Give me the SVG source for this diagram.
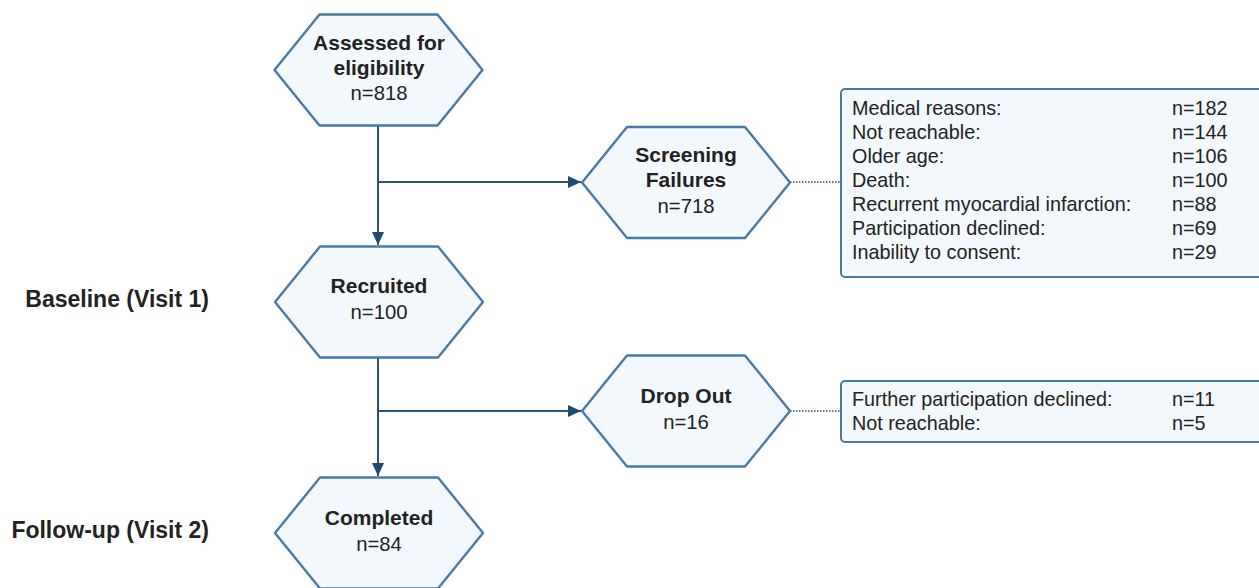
<svg xmlns="http://www.w3.org/2000/svg" width="1259" height="588" viewBox="0 0 1259 588">
<style>
.hex{fill:#f3f8fc;stroke:#4a79a5;stroke-width:2.4;stroke-linejoin:round}
.box{fill:#f3f8fc;stroke:#4a79a5;stroke-width:2}
.t{font-family:"Liberation Sans",Arial,sans-serif;fill:#222;text-anchor:middle}
.b{font-weight:bold;font-size:21px}
.r{font-size:20.3px}
.l{font-family:"Liberation Sans",Arial,sans-serif;fill:#222;font-size:19.8px}
.side{font-family:"Liberation Sans",Arial,sans-serif;fill:#222;font-size:23px;font-weight:bold;text-anchor:end}
.c{fill:none;stroke:#2b5279;stroke-width:2}
.d{fill:none;stroke:#2b5279;stroke-width:1.6;stroke-dasharray:1.5 1.5}
</style>
<defs>
<marker id="ah" markerWidth="14" markerHeight="12" refX="13" refY="6" orient="auto" markerUnits="userSpaceOnUse">
<path d="M0,0 L13,6 L0,12 Z" fill="#1f4a73"/>
</marker>
</defs>
<rect width="1259" height="588" fill="#ffffff"/>
<g id="connectors">
<path class="c" d="M378,125 L378,245" marker-end="url(#ah)"/>
<path class="c" d="M378,182 L581,182" marker-end="url(#ah)"/>
<path class="c" d="M378,357 L378,476" marker-end="url(#ah)"/>
<path class="c" d="M378,411 L581,411" marker-end="url(#ah)"/>
<path class="d" d="M790,182 L841,182"/>
<path class="d" d="M790,411 L841,411"/>
</g>
<g id="assessed">
<path class="hex" d="M274.5,70 L319.5,14.5 L437.5,14.5 L482.5,70 L437.5,125.5 L319.5,125.5 Z"/>
<text class="t b" x="379" y="50">Assessed for</text>
<text class="t b" x="379" y="75">eligibility</text>
<text class="t r" x="379" y="100">n=818</text>
</g>
<g id="screening">
<path class="hex" d="M582,182.5 L627,127 L745,127 L790,182.5 L745,238 L627,238 Z"/>
<text class="t b" x="686" y="162">Screening</text>
<text class="t b" x="686" y="187">Failures</text>
<text class="t r" x="686" y="213">n=718</text>
</g>
<g id="recruited">
<path class="hex" d="M275,302 L320,246.5 L438,246.5 L483,302 L438,357.5 L320,357.5 Z"/>
<text class="t b" x="379" y="293">Recruited</text>
<text class="t r" x="379" y="319">n=100</text>
</g>
<g id="dropout">
<path class="hex" d="M582,411 L627,355.5 L745,355.5 L790,411 L745,466.5 L627,466.5 Z"/>
<text class="t b" x="686" y="403">Drop Out</text>
<text class="t r" x="686" y="429">n=16</text>
</g>
<g id="completed">
<path class="hex" d="M275,533 L320,477.5 L438,477.5 L483,533 L438,588.5 L320,588.5 Z"/>
<text class="t b" x="379" y="525">Completed</text>
<text class="t r" x="379" y="551">n=84</text>
</g>
<g id="screening-reasons">
<rect class="box" x="841" y="89" width="440" height="188" rx="4"/>
<text class="l" x="852" y="115">Medical reasons:</text>
<text class="l" x="852" y="139">Not reachable:</text>
<text class="l" x="852" y="163">Older age:</text>
<text class="l" x="852" y="187">Death:</text>
<text class="l" x="852" y="211">Recurrent myocardial infarction:</text>
<text class="l" x="852" y="235">Participation declined:</text>
<text class="l" x="852" y="259">Inability to consent:</text>
<text class="l" x="1172" y="115">n=182</text>
<text class="l" x="1172" y="139">n=144</text>
<text class="l" x="1172" y="163">n=106</text>
<text class="l" x="1172" y="187">n=100</text>
<text class="l" x="1172" y="211">n=88</text>
<text class="l" x="1172" y="235">n=69</text>
<text class="l" x="1172" y="259">n=29</text>
</g>
<g id="dropout-reasons">
<rect class="box" x="841" y="381" width="440" height="61" rx="4"/>
<text class="l" x="852" y="406">Further participation declined:</text>
<text class="l" x="852" y="430">Not reachable:</text>
<text class="l" x="1172" y="406">n=11</text>
<text class="l" x="1172" y="430">n=5</text>
</g>
<g id="labels">
<text class="side" x="209" y="307">Baseline (Visit 1)</text>
<text class="side" x="209" y="538">Follow-up (Visit 2)</text>
</g>
</svg>
